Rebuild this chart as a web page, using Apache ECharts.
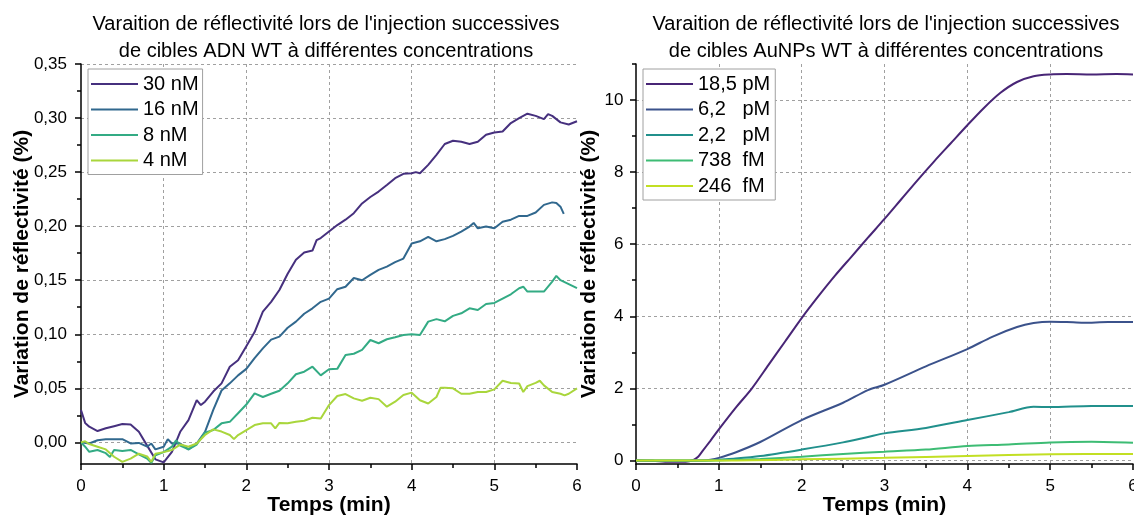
<!DOCTYPE html>
<html>
<head>
<meta charset="utf-8">
<script src="https://cdn.jsdelivr.net/npm/echarts@6/dist/echarts.min.js"></script>
<style>
html,body{margin:0;padding:0;background:#fff;}
#chart{width:1134px;height:515px;}
</style>
</head>
<body>
<div id="chart"></div>
<script>
// ---- Left chart: ADN WT ----
const leftNames = ['30 nM', '16 nM', '8 nM', '4 nM'];
const t30 = [0,0.05,0.1,0.2,0.3,0.4,0.5,0.6,0.7,0.8,0.9,1.0,1.1,1.2,1.3,1.4,1.45,1.5,1.6,1.7,1.8,1.9,2.0,2.1,2.2,2.3,2.4,2.5,2.6,2.7,2.8,2.85,2.9,3.0,3.1,3.2,3.3,3.4,3.5,3.6,3.7,3.8,3.9,4.0,4.05,4.1,4.2,4.3,4.4,4.5,4.6,4.7,4.8,4.9,5.0,5.1,5.2,5.3,5.4,5.5,5.6,5.65,5.7,5.8,5.9,6.0];
const v30 = [0.030,0.018,0.0145,0.0105,0.013,0.015,0.017,0.0166,0.0098,-0.003,-0.0157,-0.0185,-0.0087,0.0098,0.0206,0.039,0.0345,0.0376,0.047,0.0546,0.070,0.076,0.089,0.102,0.121,0.130,0.141,0.156,0.169,0.1756,0.1774,0.187,0.189,0.195,0.201,0.206,0.212,0.221,0.227,0.232,0.238,0.2444,0.2484,0.249,0.250,0.249,0.2567,0.266,0.276,0.279,0.278,0.276,0.278,0.2845,0.2867,0.2876,0.2954,0.300,0.304,0.302,0.299,0.3036,0.302,0.296,0.294,0.297];
const t16 = [0,0.1,0.2,0.3,0.4,0.5,0.6,0.7,0.8,0.85,0.9,1.0,1.05,1.1,1.2,1.3,1.4,1.5,1.6,1.7,1.8,1.9,2.0,2.1,2.2,2.3,2.4,2.5,2.6,2.7,2.8,2.9,3.0,3.1,3.2,3.3,3.4,3.5,3.6,3.7,3.8,3.9,4.0,4.1,4.2,4.3,4.4,4.5,4.6,4.7,4.75,4.8,4.9,5.0,5.1,5.2,5.3,5.4,5.5,5.6,5.7,5.75,5.8,5.84];
const v16 = [0.0,-0.001,0.002,0.003,0.003,0.003,-0.001,-0.0005,-0.004,-0.001,-0.0065,-0.004,0.003,-0.001,-0.001,-0.0065,-0.001,0.0098,0.030,0.048,0.0546,0.062,0.068,0.078,0.087,0.095,0.0978,0.106,0.1117,0.119,0.124,0.130,0.133,0.1417,0.144,0.152,0.150,0.155,0.1595,0.1626,0.1667,0.170,0.184,0.186,0.190,0.186,0.188,0.191,0.195,0.1996,0.203,0.198,0.1996,0.198,0.204,0.206,0.2095,0.2095,0.2126,0.2197,0.222,0.2215,0.218,0.2114];
const t8 = [0,0.05,0.1,0.2,0.3,0.35,0.4,0.5,0.6,0.7,0.8,0.85,0.9,1.0,1.1,1.15,1.2,1.3,1.4,1.5,1.6,1.7,1.8,1.9,2.0,2.1,2.2,2.3,2.4,2.5,2.6,2.7,2.8,2.9,3.0,3.1,3.2,3.3,3.4,3.5,3.6,3.7,3.8,3.9,4.0,4.1,4.2,4.3,4.4,4.5,4.6,4.7,4.8,4.9,5.0,5.1,5.2,5.3,5.35,5.4,5.5,5.6,5.7,5.75,5.8,5.9,6.0];
const v8 = [0.0,-0.004,-0.0087,-0.007,-0.010,-0.0135,-0.007,-0.008,-0.007,-0.011,-0.015,-0.019,-0.012,-0.009,-0.004,0.002,-0.003,-0.0065,-0.002,0.009,0.0114,0.0176,0.019,0.027,0.035,0.0454,0.042,0.045,0.0478,0.0546,0.063,0.0654,0.070,0.062,0.0676,0.068,0.0808,0.082,0.0855,0.0947,0.0917,0.0954,0.0972,0.0993,0.100,0.0993,0.1117,0.114,0.112,0.117,0.1194,0.124,0.1225,0.128,0.129,0.133,0.137,0.1426,0.144,0.1395,0.1395,0.1395,0.1487,0.154,0.150,0.1463,0.1426];
const t4 = [0,0.05,0.1,0.2,0.3,0.4,0.5,0.6,0.7,0.8,0.85,0.9,1.0,1.1,1.2,1.3,1.4,1.5,1.6,1.7,1.8,1.85,1.9,2.0,2.1,2.2,2.3,2.35,2.4,2.5,2.6,2.7,2.8,2.9,3.0,3.1,3.2,3.3,3.4,3.5,3.6,3.7,3.8,3.9,4.0,4.1,4.2,4.3,4.35,4.4,4.5,4.6,4.7,4.8,4.9,5.0,5.1,5.2,5.3,5.35,5.4,5.5,5.55,5.6,5.7,5.8,5.85,5.9,6.0];
const v4 = [0.0,0.001,-0.0015,-0.004,-0.0065,-0.0133,-0.018,-0.015,-0.0105,-0.013,-0.018,-0.0105,-0.009,-0.007,-0.002,-0.004,-0.001,0.0068,0.012,0.010,0.0068,0.003,0.0068,0.0114,0.016,0.0176,0.0176,0.013,0.018,0.0176,0.019,0.020,0.0228,0.022,0.0345,0.0429,0.0447,0.0407,0.0385,0.0413,0.040,0.033,0.0376,0.0438,0.046,0.039,0.036,0.042,0.0506,0.0506,0.050,0.045,0.045,0.0466,0.0466,0.049,0.057,0.055,0.0545,0.0466,0.052,0.055,0.057,0.0527,0.0466,0.045,0.0435,0.045,0.050];
const leftTimes = [t30, t16, t8, t4];
const leftValues = [v30, v16, v8, v4];
const leftColors = ['#46307e', '#31688e', '#33ab84', '#a9d63c'];
const leftYTicks = [0, 0.05, 0.10, 0.15, 0.20, 0.25, 0.30, 0.35];
const leftYMinor = [0.025, 0.075, 0.125, 0.175, 0.225, 0.275, 0.325];

// ---- Right chart: AuNPs WT ----
const rightNames = ['18,5 pM', '6,2   pM', '2,2   pM', '738  fM', '246  fM'];
const tA = [0,0.2,0.4,0.6,0.7,0.75,0.8,0.9,1.0,1.2,1.4,1.6,1.8,2.0,2.2,2.4,2.6,2.8,3.0,3.2,3.4,3.6,3.8,4.0,4.2,4.4,4.6,4.8,5.0,5.2,5.5,5.8,6.0];
const vA = [0,-0.01,-0.04,-0.04,0.02,0.1,0.25,0.55,0.86,1.45,2.0,2.65,3.3,3.95,4.55,5.12,5.65,6.18,6.7,7.24,7.78,8.3,8.8,9.3,9.78,10.2,10.5,10.66,10.71,10.72,10.71,10.72,10.71];
const tB = [0,0.5,0.8,0.9,1.0,1.2,1.5,2.0,2.5,2.8,3.0,3.5,4.0,4.3,4.6,4.8,5.0,5.2,5.4,5.7,6.0];
const vB = [0.0,-0.02,0.0,0.02,0.07,0.22,0.51,1.12,1.6,1.95,2.1,2.61,3.09,3.43,3.70,3.81,3.85,3.84,3.82,3.84,3.84];
const tC = [0,0.9,1.0,1.2,1.5,2.0,2.5,2.8,3.0,3.5,4.0,4.5,4.8,5.0,5.5,6.0];
const vC = [0,0,0.02,0.05,0.12,0.30,0.5,0.65,0.75,0.9,1.12,1.34,1.49,1.48,1.51,1.51];
const tD = [0,1.0,1.5,2.0,2.5,3.0,3.5,4.0,4.5,5.0,5.5,6.0];
const vD = [0,0,0.04,0.1,0.18,0.24,0.3,0.4,0.44,0.5,0.52,0.49];
const tE = [0,1.0,2.0,3.0,4.0,5.0,6.0];
const vE = [0,0,0.03,0.07,0.12,0.17,0.18];
const rightTimes = [tA, tB, tC, tD, tE];
const rightValues = [vA, vB, vC, vD, vE];
const rightColors = ['#482576', '#3b528b', '#21908c', '#3dbc74', '#c2df23'];
const rightYTicks = [0, 2, 4, 6, 8, 10];
const rightYMinor = [1, 3, 5, 7, 9, 11];

const titleLeft = "Varaition de réflectivité lors de l'injection successives\nde cibles ADN WT à différentes concentrations";
const titleRight = "Varaition de réflectivité lors de l'injection successives\nde cibles AuNPs WT à différentes concentrations";
const xName = 'Temps (min)';
const yName = 'Variation de réflectivité (%)';

const FONT = 'Liberation Sans, Arial, sans-serif';
const black = '#000';

function xAxisCfg(gridIndex) {
  return {
    type: 'value', gridIndex: gridIndex, min: 0, max: 6, interval: 1,
    name: xName, nameLocation: 'middle', nameGap: 31, nameMoveOverlap: false,
    nameTextStyle: { fontSize: 21, fontWeight: 'bold', color: black, fontFamily: FONT },
    axisLine: { show: true, onZero: false, lineStyle: { color: black, width: 1.5 } },
    axisTick: { show: true, length: 6, lineStyle: { color: black, width: 1.5 } },
    minorTick: { show: true, splitNumber: 2, length: 4, lineStyle: { color: black, width: 1.5 } },
    axisLabel: { fontSize: 17, color: black, margin: 14, fontFamily: FONT },
    splitLine: { show: true, showMinLine: false, showMaxLine: false, lineStyle: { color: '#a0a0a0', type: [3, 3], width: 1 } }
  };
}

function yAxisMain(gridIndex, min, max, splitNumber, ticks, fmt, nameGap, margin) {
  return {
    type: 'value', gridIndex: gridIndex, position: 'left', min: min, max: max, splitNumber: splitNumber,
    name: yName, nameLocation: 'middle', nameGap: nameGap, nameMoveOverlap: false,
    nameTextStyle: { fontSize: 21, fontWeight: 'bold', color: black, fontFamily: FONT },
    axisLine: { show: true, onZero: false, lineStyle: { color: black, width: 1.5 } },
    axisTick: { show: true, length: 6, customValues: ticks, lineStyle: { color: black, width: 1.5 } },
    axisLabel: { fontSize: 17, color: black, margin: margin, fontFamily: FONT, customValues: ticks, formatter: fmt },
    splitLine: { show: true, showMinLine: true, showMaxLine: true, lineStyle: { color: '#a0a0a0', type: [3, 3], width: 1 } }
  };
}
function yAxisMinor(gridIndex, min, max, ticks) {
  return {
    type: 'value', gridIndex: gridIndex, position: 'left', min: min, max: max,
    axisLine: { show: false },
    axisTick: { show: true, length: 4, customValues: ticks, lineStyle: { color: black, width: 1.5 } },
    axisLabel: { show: false },
    splitLine: { show: false }
  };
}

const series = [];
leftNames.forEach((n, i) => {
  series.push({
    name: n, type: 'line', xAxisIndex: 0, yAxisIndex: 0, symbol: 'none', clip: true,
    lineStyle: { width: 2, color: leftColors[i] }, itemStyle: { color: leftColors[i] },
    data: leftTimes[i].map((t, k) => [t, leftValues[i][k]])
  });
});
rightNames.forEach((n, i) => {
  series.push({
    name: n, type: 'line', xAxisIndex: 1, yAxisIndex: 2, symbol: 'none', clip: true, smooth: 0.3,
    lineStyle: { width: 2, color: rightColors[i] }, itemStyle: { color: rightColors[i] },
    data: rightTimes[i].map((t, k) => [t, rightValues[i][k]])
  });
});

function legendCfg(names, left, padding) {
  return {
    data: names, left: left, top: 69, orient: 'vertical', selectedMode: false,
    icon: 'rect', itemWidth: 47, itemHeight: 2, itemGap: 5.5, padding: padding,
    backgroundColor: '#fff', borderColor: '#a0a0a0', borderWidth: 1, borderRadius: 0,
    textStyle: { fontSize: 20, lineHeight: 20, color: black, fontFamily: FONT }
  };
}

const option = {
  animation: false,
  backgroundColor: '#fff',
  title: [
    { text: titleLeft, left: 321, top: 6, textAlign: 'center',
      textStyle: { fontSize: 20, fontWeight: 'normal', lineHeight: 27, color: black, fontFamily: FONT } },
    { text: titleRight, left: 881, top: 6, textAlign: 'center',
      textStyle: { fontSize: 20, fontWeight: 'normal', lineHeight: 27, color: black, fontFamily: FONT } }
  ],
  legend: [
    legendCfg(leftNames, 88, [5, 4, 4, 3]),
    legendCfg(rightNames, 643, [5, 5, 4, 3])
  ],
  grid: [
    { left: 81, top: 64, width: 496, height: 400, containLabel: false, outerBoundsMode: 'none' },
    { left: 636, top: 64, width: 497, height: 400, containLabel: false, outerBoundsMode: 'none' }
  ],
  xAxis: [xAxisCfg(0), xAxisCfg(1)],
  yAxis: [
    yAxisMain(0, -0.02, 0.35, 7, leftYTicks, v => v.toFixed(2).replace('.', ','), 48, 14),
    yAxisMinor(0, -0.02, 0.35, leftYMinor),
    yAxisMain(1, -0.1, 11, 5, rightYTicks, v => String(Math.round(v)), 36, 12.5),
    yAxisMinor(1, -0.1, 11, rightYMinor)
  ],
  series: series
};

const chart = echarts.init(document.getElementById('chart'), null, { renderer: 'canvas' });
chart.setOption(option);
</script>
</body>
</html>
